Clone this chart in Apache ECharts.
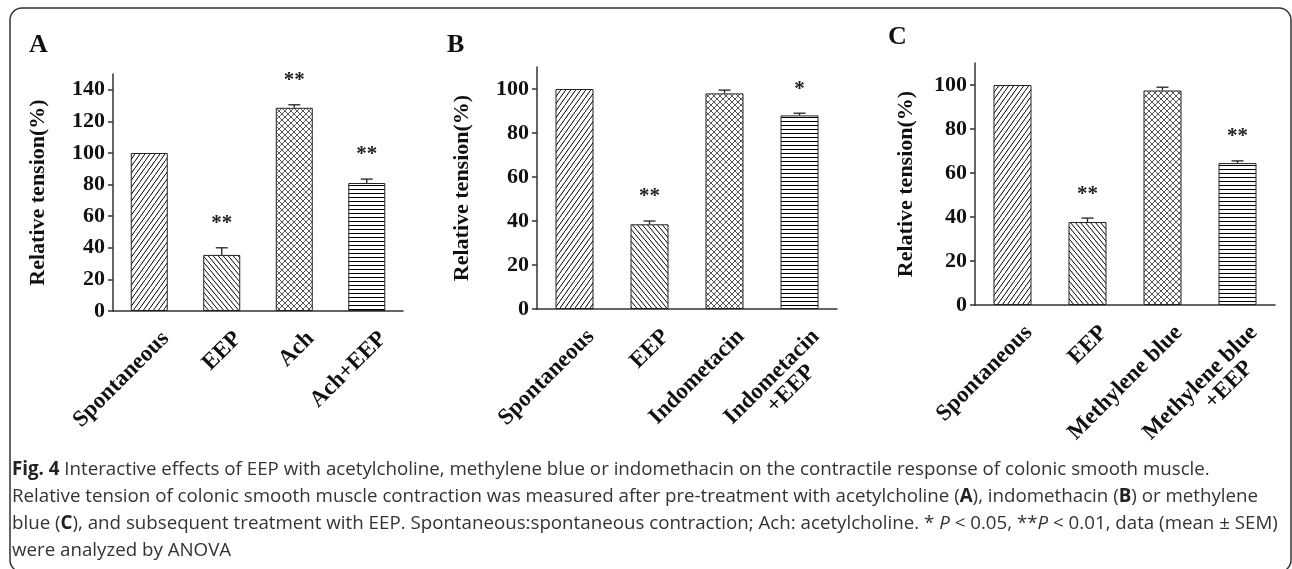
<!DOCTYPE html>
<html>
<head>
<meta charset="utf-8">
<title>Fig. 4</title>
<script src="https://cdn.jsdelivr.net/npm/echarts@6.0.0/dist/echarts.min.js"></script>
<style>
  html, body { margin: 0; padding: 0; background: #fff; }
  #main { width: 1292px; height: 569px; }
</style>
</head>
<body>
<div id="main"></div>
<script>
// ---- data ----
const catsA = ['Spontaneous', 'EEP', 'Ach', 'Ach+EEP'];
const meanA = [100, 35.5, 128.6, 81];
const upperA = [null, 40, 130.5, 83.5];
const starsA = ['', '**', '**', '**'];

const catsB = ['Spontaneous', 'EEP', 'Indometacin', 'Indometacin\n+EEP'];
const meanB = [100, 38.5, 98, 88];
const upperB = [null, 40, 99.5, 89];
const starsB = ['', '**', '', '*'];

const catsC = ['Spontaneous', 'EEP', 'Methylene blue', 'Methylene blue\n+EEP'];
const meanC = [100, 37.7, 97.5, 64.5];
const upperC = [null, 39.5, 99, 65.5];
const starsC = ['', '**', '', '**'];

const ticksA = [0, 20, 40, 60, 80, 100, 120, 140];
const ticksBC = [0, 20, 40, 60, 80, 100];

const SERIF = '"Liberation Serif", "Times New Roman", serif';
const SANS = '"Open Sans", "Noto Sans", sans-serif';
const INK = '#333';

// hatch fills, one per bar position
function makeHatch(kind) {
  const c = document.createElement('canvas');
  const ctx = c.getContext('2d');
  ctx.strokeStyle = '#444';
  ctx.lineWidth = 1;
  if (kind === 'fwd') {
    c.width = 5; c.height = 7;
    ctx.beginPath(); ctx.moveTo(-5, 14); ctx.lineTo(10, -7); ctx.stroke();
  } else if (kind === 'back') {
    c.width = 5; c.height = 6;
    ctx.beginPath(); ctx.moveTo(-5, -6); ctx.lineTo(10, 12); ctx.stroke();
  } else if (kind === 'cross') {
    c.width = 6; c.height = 6;
    ctx.strokeStyle = '#555';
    ctx.beginPath(); ctx.moveTo(-6, 12); ctx.lineTo(12, -6); ctx.stroke();
    ctx.beginPath(); ctx.moveTo(-6, -6); ctx.lineTo(12, 12); ctx.stroke();
  } else {
    c.width = 4; c.height = 4;
    ctx.beginPath(); ctx.moveTo(0, 1.5); ctx.lineTo(4, 1.5); ctx.stroke();
  }
  return { image: c, repeat: 'repeat' };
}
const hatches = ['fwd', 'back', 'cross', 'horiz'].map(makeHatch);

function barData(means) {
  return means.map((v, i) => ({
    value: v,
    itemStyle: { color: hatches[i], borderColor: '#222', borderWidth: 1 }
  }));
}

function errData(means, uppers) {
  return means.map((v, i) => [i, v, uppers[i] == null ? v : uppers[i]]);
}

function errRender(stars) {
  return function (params, api) {
    const i = params.dataIndex;
    const base = api.coord([api.value(0), api.value(1)]);
    const top = api.coord([api.value(0), api.value(2)]);
    const x = base[0];
    const children = [];
    if (top[1] < base[1] - 0.5) {
      children.push({ type: 'line', shape: { x1: x, y1: base[1], x2: x, y2: top[1] },
        style: { stroke: '#222', lineWidth: 1.3 } });
      children.push({ type: 'line', shape: { x1: x - 6, y1: top[1], x2: x + 6, y2: top[1] },
        style: { stroke: '#222', lineWidth: 1.3 } });
    }
    if (stars[i]) {
      children.push({ type: 'text', x: x, y: top[1] - 24,
        style: { text: stars[i], fill: '#222', font: 'bold 21px ' + SERIF,
          align: 'center', verticalAlign: 'middle' } });
    }
    return { type: 'group', children: children };
  };
}

function xAxisFor(idx, cats) {
  return {
    type: 'category', gridIndex: idx, data: cats,
    axisLine: { lineStyle: { color: INK, width: 1.5 } },
    axisTick: { alignWithLabel: true, length: 5, lineStyle: { color: INK, width: 1.5 } },
    axisLabel: {
      interval: 0, rotate: 45, margin: 8, verticalAlign: 'top', padding: [12, 0, 0, 0],
      color: '#111', fontFamily: SERIF, fontWeight: 'bold', fontSize: 23, lineHeight: 22,
      formatter: function (v) {
        const parts = v.split('\n');
        return parts.length > 1 ? parts[0] + '\n{s|' + parts[1] + '}' : v;
      },
      rich: { s: { fontFamily: SERIF, fontWeight: 'bold', fontSize: 23, lineHeight: 22,
        color: '#111', padding: [0, 28, 0, 0] } }
    }
  };
}

function yAxisFor(idx, max, ticks, gap) {
  return {
    type: 'value', gridIndex: idx, min: 0, max: max,
    name: 'Relative tension(%)', nameLocation: 'middle', nameGap: gap,
    nameTextStyle: { color: '#111', fontFamily: SERIF, fontWeight: 'bold', fontSize: 22 },
    axisLine: { show: true, lineStyle: { color: INK, width: 1.5 } },
    axisTick: { show: true, length: 5, customValues: ticks, lineStyle: { color: INK, width: 1.5 } },
    axisLabel: { customValues: ticks, margin: 8, color: '#111', fontFamily: SERIF,
      fontWeight: 'bold', fontSize: 22 },
    splitLine: { show: false }
  };
}

function captionLine(y, text) {
  return {
    type: 'text', x: 12, y: y, scaleX: 0.985,
    style: {
      text: text, fill: '#333', font: '19px ' + SANS, verticalAlign: 'middle',
      rich: {
        b: { font: 'bold 19px ' + SANS, fill: '#222' },
        i: { font: 'italic 19px ' + SANS, fill: '#333' }
      }
    }
  };
}

const chart = echarts.init(document.getElementById('main'));

chart.setOption({
  backgroundColor: '#fff',
  animation: false,
  grid: [
    { left: 113, top: 74, width: 290, height: 237 },
    { left: 537, top: 67, width: 300, height: 242 },
    { left: 975, top: 63, width: 300, height: 242 }
  ],
  xAxis: [xAxisFor(0, catsA), xAxisFor(1, catsB), xAxisFor(2, catsC)],
  yAxis: [yAxisFor(0, 150, ticksA, 64), yAxisFor(1, 110, ticksBC, 64), yAxisFor(2, 110, ticksBC, 58)],
  series: [
    { type: 'bar', xAxisIndex: 0, yAxisIndex: 0, barWidth: 37, data: barData(meanA) },
    { type: 'bar', xAxisIndex: 1, yAxisIndex: 1, barWidth: 38, data: barData(meanB) },
    { type: 'bar', xAxisIndex: 2, yAxisIndex: 2, barWidth: 38, data: barData(meanC) },
    { type: 'custom', xAxisIndex: 0, yAxisIndex: 0, z: 5, clip: false,
      renderItem: errRender(starsA), data: errData(meanA, upperA) },
    { type: 'custom', xAxisIndex: 1, yAxisIndex: 1, z: 5, clip: false,
      renderItem: errRender(starsB), data: errData(meanB, upperB) },
    { type: 'custom', xAxisIndex: 2, yAxisIndex: 2, z: 5, clip: false,
      renderItem: errRender(starsC), data: errData(meanC, upperC) }
  ],
  graphic: [
    { type: 'rect', shape: { x: 10, y: 8, width: 1281, height: 564, r: 12 },
      style: { fill: 'none', stroke: '#333', lineWidth: 1.5 }, z: -1 },
    { type: 'text', x: 29, y: 45, style: { text: 'A', font: 'bold 26px ' + SERIF, fill: '#111', verticalAlign: 'middle' } },
    { type: 'text', x: 447, y: 45, style: { text: 'B', font: 'bold 26px ' + SERIF, fill: '#111', verticalAlign: 'middle' } },
    { type: 'text', x: 888, y: 37, style: { text: 'C', font: 'bold 26px ' + SERIF, fill: '#111', verticalAlign: 'middle' } },
    captionLine(470, '{b|Fig. 4} Interactive effects of EEP with acetylcholine, methylene blue or indomethacin on the contractile response of colonic smooth muscle.'),
    captionLine(497, 'Relative tension of colonic smooth muscle contraction was measured after pre-treatment with acetylcholine ({b|A}), indomethacin ({b|B}) or methylene'),
    captionLine(524, 'blue ({b|C}), and subsequent treatment with EEP. Spontaneous:spontaneous contraction; Ach: acetylcholine. * {i|P} < 0.05, **{i|P} < 0.01, data (mean ± SEM)'),
    captionLine(551, 'were analyzed by ANOVA')
  ]
});
</script>
</body>
</html>
